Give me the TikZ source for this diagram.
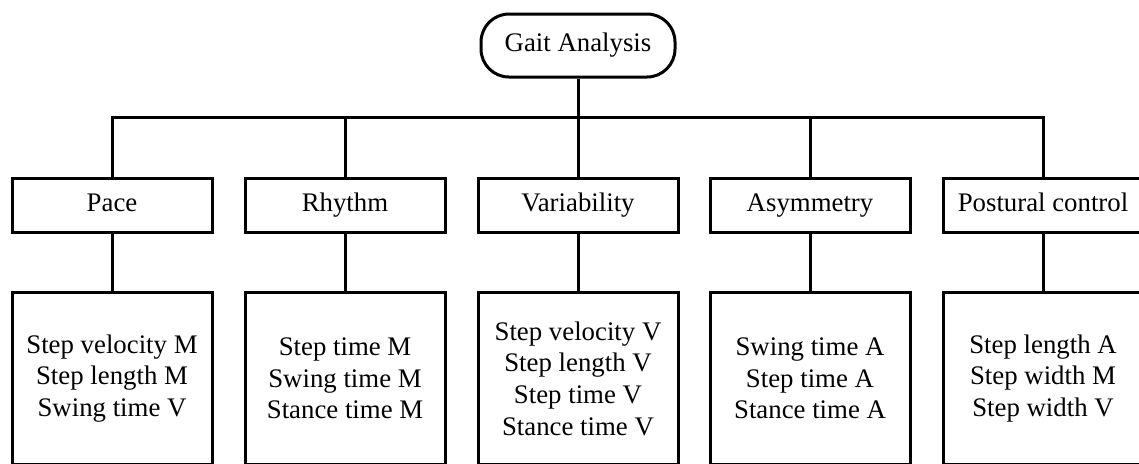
\documentclass[tikz,border=0pt]{standalone}
\usepackage{fontspec}
\setmainfont{Liberation Serif}

\begin{document}
\begin{tikzpicture}[x=0.5pt,y=-0.5pt,
    wire/.style={draw=black,line width=1.5pt},
    cat/.style={draw=black,line width=1.5pt,fill=white,minimum width=100pt,minimum height=27pt,inner sep=0pt,font=\fontsize{13.4}{15.8}\selectfont},
    label/.style={cat,text height=9pt,text depth=3pt},
    detail/.style={cat,minimum height=86pt,align=center},
    top/.style={label,minimum width=97pt,minimum height=31.5pt,rounded corners=14pt}]
                    \useasboundingbox (0,0) rectangle (1139,463);
                    \node [top] (gait) at (578,45.5) {Gait Analysis};
                    \node [label] (pace) at (112,205) {Pace};
                    \node [label] (rhythm) at (345,205) {Rhythm};
                    \node [label] (var) at (578,205) {Variability};
                    \node [label] (asym) at (810,205) {Asymmetry};
                    \node [label] (post) at (1043,205) {Postural control};
                    \node [detail] (paced) at (112,378.5) {Step velocity M\\Step length M\\Swing time V};
                    \node [detail] (rhythmd) at (345,378.5) {Step time M\\Swing time M\\Stance time M};
                    \node [detail] (vard) at (578,378.5) {Step velocity V\\Step length V\\Step time V\\Stance time V};
                    \node [detail] (asymd) at (810,378.5) {Swing time A\\Step time A\\Stance time A};
                    \node [detail] (postd) at (1043,378.5) {Step length A\\Step width M\\Step width V};
                    \coordinate (bus) at (578,117);
                    \draw [wire] (pace.north) |- (bus) -| (post.north);
                    \draw [wire] (gait.south) -- (var.north);
                    \draw [wire] (rhythm.north) -- (rhythm.north |- bus);
                    \draw [wire] (asym.north) -- (asym.north |- bus);
                    \draw [wire] (pace.south) -- (paced.north);
                    \draw [wire] (rhythm.south) -- (rhythmd.north);
                    \draw [wire] (var.south) -- (vard.north);
                    \draw [wire] (asym.south) -- (asymd.north);
                    \draw [wire] (post.south) -- (postd.north);
                \end{tikzpicture}
\end{document}
